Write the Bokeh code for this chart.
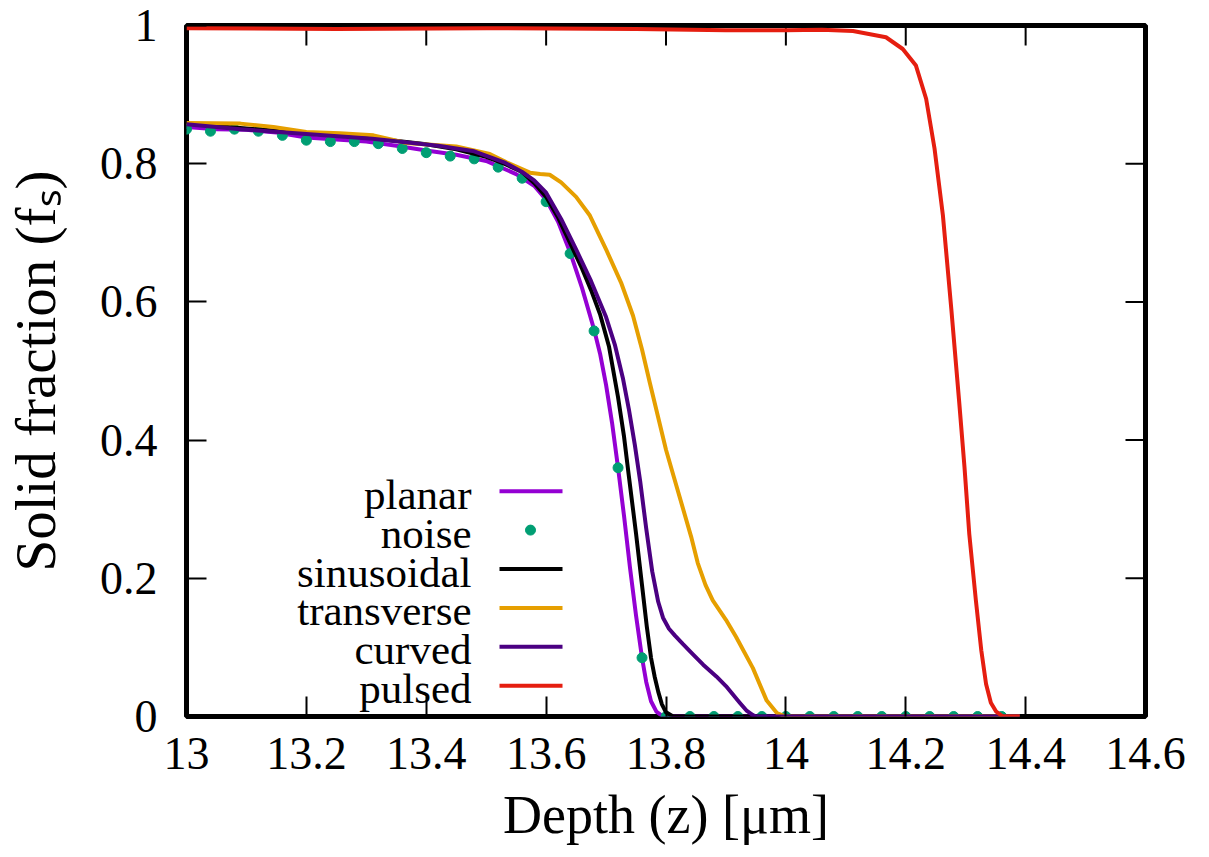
from bokeh.plotting import figure
from bokeh.models import Range1d, FixedTicker, ColumnDataSource
from bokeh.core.properties import value
from bokeh.embed import file_html
from bokeh.resources import INLINE

# ---------------- data ----------------
planar_x = [13.00, 13.05, 13.10, 13.15, 13.20, 13.25, 13.30, 13.35, 13.40, 13.45, 13.50, 13.55, 13.58,
            13.60, 13.62, 13.64, 13.66, 13.68, 13.69, 13.70, 13.71, 13.72, 13.73, 13.74, 13.75, 13.76,
            13.767, 13.775, 13.784, 13.795, 14.39]
planar_y = [0.853, 0.850, 0.849, 0.845, 0.838, 0.835, 0.832, 0.826, 0.819, 0.813, 0.804, 0.785, 0.768,
            0.748, 0.716, 0.672, 0.620, 0.560, 0.525, 0.480, 0.425, 0.360, 0.290, 0.215, 0.146, 0.085,
            0.050, 0.022, 0.007, 0.0, 0.0]

noise_x = [13.00, 13.04, 13.08, 13.12, 13.16, 13.20, 13.24, 13.28, 13.32, 13.36, 13.40, 13.44,
           13.48, 13.52, 13.56, 13.60, 13.64, 13.68, 13.72, 13.76, 13.80, 13.84, 13.88, 13.92,
           13.96, 14.00, 14.04, 14.08, 14.12, 14.16, 14.20, 14.24, 14.28, 14.32, 14.36]
noise_y = [0.850, 0.847, 0.850, 0.847, 0.841, 0.834, 0.832, 0.832, 0.829, 0.822, 0.816, 0.811,
           0.807, 0.795, 0.779, 0.745, 0.670, 0.558, 0.360, 0.085, 0.0, 0.0, 0.0, 0.0,
           0.0, 0.0, 0.0, 0.0, 0.0, 0.0, 0.0, 0.0, 0.0, 0.0, 0.0]

sinus_x = [13.00, 13.10, 13.20, 13.30, 13.40, 13.45, 13.50, 13.53, 13.56, 13.58, 13.60, 13.62, 13.645,
           13.66, 13.675, 13.69, 13.705, 13.72, 13.73, 13.738, 13.75, 13.76, 13.768, 13.775, 13.781,
           13.787, 13.793, 13.80, 13.812, 14.39]
sinus_y = [0.858, 0.851, 0.844, 0.838, 0.828, 0.821, 0.810, 0.800, 0.788, 0.772, 0.752, 0.722, 0.676,
           0.648, 0.617, 0.582, 0.535, 0.462, 0.405, 0.348, 0.265, 0.190, 0.130, 0.085, 0.058,
           0.036, 0.018, 0.006, 0.0, 0.0]

trans_x = [13.00, 13.09, 13.145, 13.20, 13.256, 13.312, 13.367, 13.45, 13.506, 13.534, 13.573, 13.59,
           13.606, 13.625, 13.65, 13.673, 13.70, 13.725, 13.745, 13.76, 13.773, 13.80, 13.813, 13.842,
           13.853, 13.866, 13.878, 13.90, 13.917, 13.945, 13.968, 13.985, 14.0, 14.39]
trans_y = [0.859, 0.858, 0.853, 0.846, 0.844, 0.841, 0.830, 0.825, 0.814, 0.802, 0.787, 0.785,
           0.784, 0.773, 0.752, 0.725, 0.676, 0.628, 0.580, 0.531, 0.483, 0.386, 0.347, 0.260,
           0.222, 0.190, 0.168, 0.140, 0.115, 0.070, 0.023, 0.005, 0.0, 0.0]

curved_x = [13.00, 13.09, 13.20, 13.31, 13.42, 13.48, 13.53, 13.56, 13.58, 13.60, 13.625, 13.65, 13.675,
            13.70, 13.715, 13.728, 13.738, 13.748, 13.757, 13.767, 13.777, 13.787, 13.795, 13.805,
            13.815, 13.828, 13.845, 13.862, 13.884, 13.90, 13.923, 13.935, 13.945, 13.95, 14.39]
curved_y = [0.857, 0.850, 0.843, 0.836, 0.826, 0.818, 0.802, 0.788, 0.776, 0.758, 0.720, 0.676, 0.630,
            0.578, 0.537, 0.490, 0.445, 0.393, 0.340, 0.272, 0.210, 0.166, 0.143, 0.127,
            0.117, 0.105, 0.090, 0.075, 0.058, 0.044, 0.020, 0.008, 0.002, 0.0, 0.0]

pulsed_x = [13.00, 13.25, 13.50, 13.75, 13.90, 14.00, 14.06, 14.112, 14.167, 14.195, 14.217, 14.234,
            14.248, 14.262, 14.276, 14.289, 14.298, 14.306, 14.317, 14.326, 14.334, 14.342, 14.351,
            14.362, 14.39]
pulsed_y = [0.996, 0.995, 0.996, 0.995, 0.993, 0.993, 0.994, 0.992, 0.983, 0.966, 0.942, 0.894,
            0.822, 0.725, 0.590, 0.457, 0.361, 0.264, 0.168, 0.096, 0.047, 0.020, 0.007,
            0.0, 0.0]

x_ticks = [13.0, 13.2, 13.4, 13.6, 13.8, 14.0, 14.2, 14.4, 14.6]
x_tick_labels = ["13", "13.2", "13.4", "13.6", "13.8", "14", "14.2", "14.4", "14.6"]
y_ticks = [0.0, 0.2, 0.4, 0.6, 0.8, 1.0]
y_tick_labels = ["0", "0.2", "0.4", "0.6", "0.8", "1"]

series_names = ["planar", "noise", "sinusoidal", "transverse", "curved", "pulsed"]
series_colors = ["#9400d3", "#009e73", "#000000", "#e69f00", "#4b0082", "#e51e10"]

x_title = "Depth (z) [μm]"
y_title = "Solid fraction (fₛ)"

# ---------------- layout ----------------
FONT = "Liberation Serif"
TICK_FS = "46px"
LEG_FS = "43px"
XLABEL_FS = "54px"
YLABEL_FS = "57px"
X0, X1, Y0, Y1 = 13.0, 14.6, 0.0, 1.0
FRAME_L, FRAME_T, FRAME_W, FRAME_H = 183, 25, 959, 691   # page pixels
CANVAS_W, CANVAS_H = 1200, 852
TICK_LEN = 20


def px_x(px):
    return X0 + (px - FRAME_L) / FRAME_W * (X1 - X0)


def px_y(py):
    return Y1 - (py - FRAME_T) / FRAME_H * (Y1 - Y0)


p = figure(frame_width=FRAME_W, frame_height=FRAME_H,
           x_range=Range1d(X0, X1), y_range=Range1d(Y0, Y1),
           output_backend="svg", toolbar_location=None,
           min_border_left=FRAME_L, min_border_top=FRAME_T,
           min_border_right=CANVAS_W - FRAME_L - FRAME_W,
           min_border_bottom=CANVAS_H - FRAME_T - FRAME_H)
p.grid.visible = False
p.outline_line_color = "black"
p.outline_line_width = 5
p.background_fill_color = "white"
p.border_fill_color = "white"


def style_axis(ax, ticks, labels, standoff, label_fs):
    ax.ticker = FixedTicker(ticks=ticks)
    ax.major_tick_in = TICK_LEN
    ax.major_tick_out = 0
    ax.minor_tick_line_color = None
    ax.axis_line_color = None
    ax.major_tick_line_width = 2
    ax.major_tick_line_color = "black"
    ax.major_label_overrides = {t: l for t, l in zip(ticks, labels)}
    ax.major_label_text_font = FONT
    ax.major_label_text_font_size = TICK_FS
    ax.major_label_text_color = "black"
    ax.major_label_standoff = standoff
    ax.axis_label_text_font = FONT
    ax.axis_label_text_font_size = label_fs
    ax.axis_label_text_font_style = "normal"
    ax.axis_label_text_color = "black"


style_axis(p.xaxis[0], x_ticks, x_tick_labels, 21, XLABEL_FS)
p.xaxis[0].axis_label = x_title
p.xaxis[0].axis_label_standoff = 13
style_axis(p.yaxis[0], y_ticks, y_tick_labels, 29, YLABEL_FS)
p.yaxis[0].axis_label = y_title
p.yaxis[0].axis_label_standoff = 30

# mirror ticks on top and right edges (gnuplot style), drawn through the scales
dy_tick = TICK_LEN / FRAME_H * (Y1 - Y0)
dx_tick = TICK_LEN / FRAME_W * (X1 - X0)
p.segment(x0=x_ticks, y0=[Y1] * len(x_ticks), x1=x_ticks, y1=[Y1 - dy_tick] * len(x_ticks),
          line_color="black", line_width=2)
p.segment(x0=[X1] * len(y_ticks), y0=y_ticks, x1=[X1 - dx_tick] * len(y_ticks), y1=y_ticks,
          line_color="black", line_width=2)

# ---------------- series ----------------
LW = 4
p.line(planar_x, planar_y, line_width=LW, color=series_colors[0], line_join="round")
p.scatter(noise_x, noise_y, size=10, color=series_colors[1])
p.line(sinus_x, sinus_y, line_width=LW, color=series_colors[2], line_join="round")
p.line(trans_x, trans_y, line_width=LW, color=series_colors[3], line_join="round")
p.line(curved_x, curved_y, line_width=LW, color=series_colors[4], line_join="round")
p.line(pulsed_x, pulsed_y, line_width=LW, color=series_colors[5], line_join="round")

# ---------------- legend (gnuplot style: text left, sample right) ----------------
leg_text_x = px_x(468)
leg_line_x0 = px_x(496)
leg_line_x1 = px_x(559)
leg_dot_x = px_x(527)
leg_row_py = [490.7 + 38.9 * i for i in range(len(series_names))]
leg_rows_y = [px_y(v) for v in leg_row_py]
leg_text_y = [px_y(v + 3) for v in leg_row_py]

p.text(x=[leg_text_x] * len(series_names), y=leg_text_y, text=series_names,
       text_font=value(FONT), text_font_size=value(LEG_FS),
       text_align="right", text_baseline="middle", text_color="black")

line_idx = [i for i, n in enumerate(series_names) if n != "noise"]
seg_src = ColumnDataSource(dict(
    x0=[leg_line_x0] * len(line_idx), x1=[leg_line_x1] * len(line_idx),
    y=[leg_rows_y[i] for i in line_idx], c=[series_colors[i] for i in line_idx]))
p.segment(x0="x0", y0="y", x1="x1", y1="y", color="c", line_width=LW, source=seg_src)
p.scatter([leg_dot_x], [leg_rows_y[1]], size=10, color=series_colors[1])

open("out.html", "w").write(file_html(p, INLINE))
